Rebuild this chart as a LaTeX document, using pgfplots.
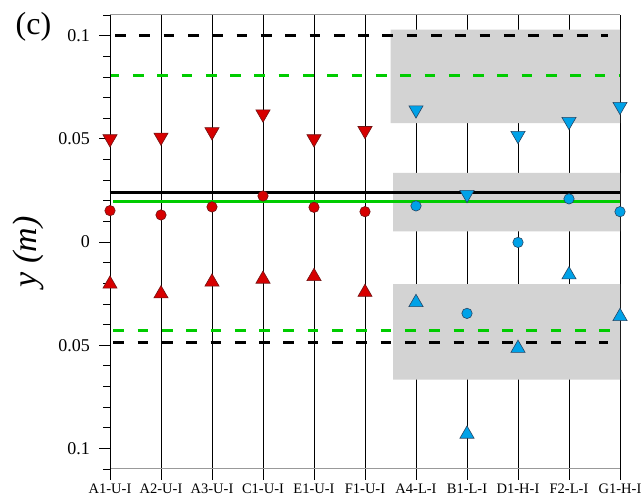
\documentclass[border=0pt]{standalone}
\usepackage{fontspec}
\setmainfont{Liberation Serif}
\usepackage{pgfplots}
\pgfplotsset{compat=1.18}
\definecolor{mred}{RGB}{215,0,0}
\definecolor{mredd}{RGB}{110,20,20}
\definecolor{mblue}{RGB}{0,162,232}
\definecolor{mblued}{RGB}{40,70,100}
\definecolor{mgreen}{RGB}{0,204,0}
\definecolor{boxgray}{RGB}{211,211,211}
\newcommand{\yl}[1]{\mbox{\fontsize{18}{19}\selectfont #1}}
\begin{document}
\begin{tikzpicture}
\path[use as bounding box] (-110pt,-33pt) rectangle (534pt,469pt);
\begin{axis}[
  at={(0pt,0pt)}, anchor=south west,
  scale only axis, width=510pt, height=454pt,
  xmin=0, xmax=10, ymin=-0.11, ymax=0.11,
  clip=false,
  xtick={0,1,2,3,4,5,6,7,8,9,10},
  xticklabels={A1-U-I,A2-U-I,A3-U-I,C1-U-I,E1-U-I,F1-U-I,A4-L-I,B1-L-I,D1-H-I,F2-L-I,G1-H-I},
  ytick={-0.1,-0.05,0,0.05,0.1},
  yticklabels={\yl{0.1},\yl{0.05},\yl{0},\yl{0.05},\yl{0.1}},
  minor ytick={-0.11,-0.09,-0.08,-0.07,-0.06,-0.04,-0.03,-0.02,-0.01,0.01,0.02,0.03,0.04,0.06,0.07,0.08,0.09,0.11},
  xtick pos=lower, ytick pos=left, tick align=outside,
  major tick length=11pt, minor tick length=7pt,
  tick style={black, line width=0.8pt},
  xmajorgrids, major x grid style={black, line width=0.8pt},
  separate axis lines,
  x axis line style={gray!80, line width=1pt},
  y axis line style={black, line width=0.8pt},
  /pgf/number format/assume math mode=true,
  tick label style={font=\fontsize{18}{19}\selectfont},
  xticklabel style={font=\fontsize{14.5}{15}\selectfont},
  yticklabel style={font=\fontsize{18}{19}\selectfont, inner sep=0pt, anchor=east, xshift=-9pt},
  ylabel={\fontsize{34}{36}\selectfont\itshape y (m)},
  ylabel style={at={(axis description cs:-0.161,0.478)}, anchor=center},
]
% gray boxes
\addplot[fill=boxgray, draw=none] coordinates {(5.5,0.0576) (10,0.0576) (10,0.1029) (5.5,0.1029) (5.5,0.0576)};
\addplot[fill=boxgray, draw=none] coordinates {(5.55,0.0052) (10,0.0052) (10,0.0335) (5.55,0.0335) (5.55,0.0052)};
\addplot[fill=boxgray, draw=none] coordinates {(5.55,-0.0667) (10,-0.0667) (10,-0.0204) (5.55,-0.0204) (5.55,-0.0667)};
% reference lines
\addplot[black, line width=3pt, dash pattern=on 10.7pt off 13.6pt] coordinates {(0.1,0.1) (9.765,0.1)};
\addplot[mgreen, line width=3pt, dash pattern=on 10.7pt off 13.6pt, dash phase=2.4pt] coordinates {(0.02,0.0809) (10,0.0809)};
\addplot[black, line width=2.8pt] coordinates {(0,0.0241) (10,0.0241)};
\addplot[mgreen, line width=2.8pt] coordinates {(0.065,0.0198) (10,0.0198)};
\addplot[mgreen, line width=3pt, dash pattern=on 10.7pt off 13.6pt] coordinates {(0.065,-0.0429) (10,-0.0429)};
\addplot[black, line width=3pt, dash pattern=on 10.7pt off 13.6pt] coordinates {(0.065,-0.0487) (9.765,-0.0487)};
% red markers
\addplot[only marks, mark=triangle*, mark size=8.2pt, mark options={rotate=180, fill=mred, draw=mredd, line width=0.6pt}] coordinates {
(0,0.0500) (1,0.0508) (2,0.0534) (3,0.0620) (4,0.0500) (5,0.0540)};
\addplot[only marks, mark=*, mark size=5.2pt, mark options={fill=mred, draw=mredd, line width=0.6pt}] coordinates {
(0,0.0152) (1,0.0131) (2,0.0170) (3,0.0223) (4,0.0168) (5,0.0147)};
\addplot[only marks, mark=triangle*, mark size=8.2pt, mark options={fill=mred, draw=mredd, line width=0.6pt}] coordinates {
(0,-0.0204) (1,-0.0251) (2,-0.0194) (3,-0.0180) (4,-0.0167) (5,-0.0244)};
% blue markers
\addplot[only marks, mark=triangle*, mark size=8.2pt, mark options={rotate=180, fill=mblue, draw=mblued, line width=0.6pt}] coordinates {
(6,0.0640) (7,0.0230) (8,0.0516) (9,0.0584) (10,0.0657)};
\addplot[only marks, mark=*, mark size=5.2pt, mark options={fill=mblue, draw=mblued, line width=0.6pt}] coordinates {
(6,0.0175) (7,-0.0346) (8,-0.0002) (9,0.0209) (10,0.0147)};
\addplot[only marks, mark=triangle*, mark size=8.2pt, mark options={fill=mblue, draw=mblued, line width=0.6pt}] coordinates {
(6,-0.0293) (7,-0.0931) (8,-0.0515) (9,-0.0159) (10,-0.0361)};
\node[font=\fontsize{32}{32}\selectfont] at (axis description cs:-0.150,0.974) {(c)};
\end{axis}
\end{tikzpicture}
\end{document}
